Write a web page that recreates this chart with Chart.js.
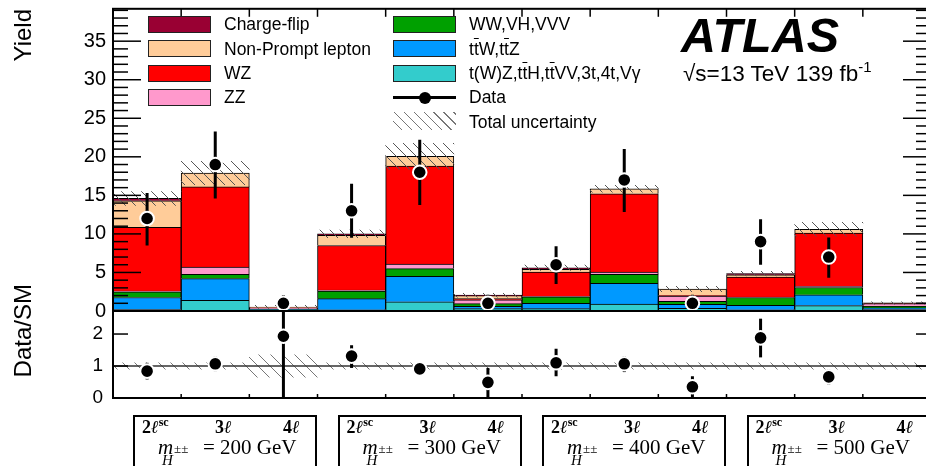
<!DOCTYPE html>
<html>
<head>
<meta charset="utf-8">
<title>Yields per signal region</title>
<script src="https://cdn.jsdelivr.net/npm/chart.js@4.4.1/dist/chart.umd.min.js"></script>
<style>
  html, body { margin: 0; padding: 0; overflow: hidden; background: #fff; }
  body { position: relative; width: 926px; height: 466px; font-family: "Liberation Sans", Arial, sans-serif; color: #000; }
  canvas { position: absolute; left: 0; }
  #main { top: 0; }
  #ratio { top: 300px; }
  .txt { position: absolute; line-height: 1; white-space: nowrap; }
  .serif { font-family: "Liberation Serif", "Times New Roman", serif; }
  .up { position: relative; line-height: 0; }
  .ol { text-decoration: overline; }
  .swatch { position: absolute; box-sizing: border-box; border: 1px solid #222; }
  .hatch { position: absolute; background: repeating-linear-gradient(45deg, transparent 0 6px, #777 6px 7px); }
  .vtitle { position: absolute; font-size: 24px; line-height: 24px; writing-mode: vertical-rl; transform: rotate(180deg); white-space: nowrap; }
  .region { position: absolute; top: 415px; height: 70px; box-sizing: border-box; border: 2px solid #000; }
</style>
</head>
<body>
<canvas id="main" width="945" height="330"></canvas>
<canvas id="ratio" width="945" height="120"></canvas>
<div class="vtitle" style="left:11px; top:9px">Yield</div>
<div class="vtitle" style="left:11px; bottom:89px">Data/SM</div>
<script>
// 4 mass points x 3 channels
const massPoints = [200, 300, 400, 500];
const channels = ['2<i>ℓ</i><span class="up" style="font-size:12px; top:-7px">sc</span>', '3<i>ℓ</i>', '4<i>ℓ</i>'];
const binLabels = ['200 2lsc', '200 3l', '200 4l', '300 2lsc', '300 3l', '300 4l',
                   '400 2lsc', '400 3l', '400 4l', '500 2lsc', '500 3l', '500 4l'];

// background yields per bin (bottom of the stack first)
const tOther     = [0.2, 1.4, 0.1, 0.15, 1.2, 0.3, 0.3, 0.9, 0.35, 0.15, 0.7, 0.2];
const ttV        = [1.55, 2.8, 0.1, 1.45, 3.3, 0.3, 0.7, 2.7, 0.5, 0.6, 1.4, 0.2];
const wwVhVvv    = [0.75, 0.55, 0.05, 1.0, 1.0, 0.35, 0.85, 1.15, 0.4, 1.0, 0.95, 0.2];
const zz         = [0.1, 0.95, 0.15, 0.1, 0.6, 0.5, 0.05, 0.3, 0.7, 0.05, 0.15, 0.35];
const wz         = [8.25, 10.4, 0.02, 5.8, 12.7, 0.15, 3.15, 10.15, 0.05, 2.6, 6.9, 0.02];
const nonPrompt  = [3.45, 1.8, 0.1, 1.3, 1.25, 0.4, 0.35, 0.65, 0.85, 0.3, 0.5, 0.08];
const chargeFlip = [0.3, 0, 0, 0.2, 0, 0.05, 0.2, 0, 0, 0.15, 0, 0];
const totUnc     = [0.9, 1.5, 0.2, 0.5, 1.7, 0.25, 0.35, 0.45, 0.35, 0.3, 0.9, 0.15];

// observed data
const dataYield = [12, 19, 1, 13, 18, 1, 6, 17, 1, 9, 7, null];
const dataLo    = [8.5, 14.6, 0.17, 9.5, 13.75, 0.17, 3.5, 12.85, 0.17, 6.0, 4.3, null];
const dataHi    = [15.3, 23.3, 2.05, 16.5, 22.2, 2.1, 8.4, 21.0, 2.1, 11.9, 9.55, null];

// ratio panel
const ratio    = [0.84, 1.07, 1.93, 1.31, 0.91, 0.49, 1.1, 1.07, 0.35, 1.88, 0.66, null];
const ratioLo  = [0.58, 0.84, 0, 0.94, 0.69, 0, 0.68, 0.81, 0, 1.27, 0.42, null];
const ratioHi  = [1.1, 1.3, 6, 1.65, 1.11, 0.94, 1.54, 1.31, 0.68, 2.48, 0.89, null];
const ratioUnc = [0.1, 0.1, 0.35, 0.1, 0.1, 0.1, 0.1, 0.1, 0.1, 0.1, 0.1, 0.1];

const yMax = 39.2;
const rMax = 2.72;

const stackDefs = [
  { label: 't(W)Z,tt\u0304H,tt\u0304VV,3t,4t,Vγ', data: tOther, color: '#33cccc' },
  { label: 'tt\u0304W,tt\u0304Z', data: ttV, color: '#0099ff' },
  { label: 'WW,VH,VVV', data: wwVhVvv, color: '#00a000' },
  { label: 'ZZ', data: zz, color: '#ff99cc' },
  { label: 'WZ', data: wz, color: '#ff0000' },
  { label: 'Non-Prompt lepton', data: nonPrompt, color: '#ffcc99' },
  { label: 'Charge-flip', data: chargeFlip, color: '#990033' }
];

const totals = binLabels.map((_, i) => stackDefs.reduce((s, d) => s + d.data[i], 0));
const band = totals.map((t, i) => [t - totUnc[i], t + totUnc[i]]);
const ratioBand = ratioUnc.map(u => [1 - u, 1 + u]);

const mainCtx = document.getElementById('main').getContext('2d');
const ratioCtx = document.getElementById('ratio').getContext('2d');

function hatchPattern(ctx, step, color) {
  const c = document.createElement('canvas');
  c.width = c.height = step;
  const g = c.getContext('2d');
  g.strokeStyle = color;
  g.lineWidth = 1;
  for (let k = -1; k <= 1; k++) {
    g.beginPath();
    g.moveTo(k * step, 0);
    g.lineTo(k * step + step, step);
    g.stroke();
  }
  return ctx.createPattern(c, 'repeat');
}

function line(ctx, x1, y1, x2, y2) {
  ctx.beginPath();
  ctx.moveTo(x1, y1);
  ctx.lineTo(x2, y2);
  ctx.stroke();
}

// error bars (and the unit line of the ratio) go after the hatch band, under the markers
function errorBarPlugin(lo, hi, unitLine) {
  return {
    id: 'errorBars',
    afterDatasetDraw(chart, args) {
      if (args.index !== 1) return;
      const { ctx, chartArea: a, scales } = chart;
      ctx.save();
      ctx.beginPath();
      ctx.rect(a.left, a.top, a.right - a.left, a.bottom - a.top);
      ctx.clip();
      if (unitLine) {
        ctx.strokeStyle = '#333';
        ctx.lineWidth = 1.5;
        const y1 = scales.y.getPixelForValue(1);
        line(ctx, a.left, y1, a.right, y1);
      }
      ctx.strokeStyle = '#000';
      ctx.lineWidth = 3;
      lo.forEach((l, i) => {
        if (l == null) return;
        const x = scales.x.getPixelForValue(i);
        line(ctx, x, scales.y.getPixelForValue(l), x, scales.y.getPixelForValue(hi[i]));
      });
      ctx.restore();
    }
  };
}

// ROOT-like frame with inward ticks
function framePlugin(o) {
  return {
    id: 'frame',
    afterDraw(chart) {
      const { ctx, chartArea: a, scales } = chart;
      ctx.save();
      ctx.strokeStyle = '#000';
      ctx.lineWidth = 1.5;
      for (let v = 0; v <= o.max; v += o.minor) {
        const py = scales.y.getPixelForValue(v);
        const len = Math.abs(v / o.major - Math.round(v / o.major)) < 1e-6 ? o.majorLen : o.minorLen;
        line(ctx, a.left, py, a.left + len, py);
        line(ctx, a.right, py, a.right - len, py);
      }
      const n = binLabels.length;
      const w = (a.right - a.left) / n;
      for (let i = 1; i < n; i++) {
        const px = a.left + i * w;
        if (o.topTick) line(ctx, px, a.top, px, a.top + o.topTick);
        if (o.bottomTick) line(ctx, px, a.bottom, px, a.bottom - o.bottomTick);
      }
      ctx.lineWidth = 2;
      ctx.strokeRect(a.left, a.top, a.right - a.left, a.bottom - a.top);
      ctx.restore();
    }
  };
}

const tickFont = { family: '"Liberation Sans", Arial, sans-serif', size: 20 };
const markerStyle = {
  type: 'line', showLine: false, order: 0,
  pointRadius: 6.8, pointHoverRadius: 6.8,
  pointBackgroundColor: '#000', pointBorderColor: '#fff', pointBorderWidth: 2
};

const mainChart = new Chart(mainCtx, {
  type: 'bar',
  data: {
    labels: binLabels,
    datasets: [
      Object.assign({ label: 'Data', data: dataYield, yAxisID: 'yb' }, markerStyle),
      {
        label: 'Total uncertainty', data: band, yAxisID: 'yb', order: 1, grouped: false,
        backgroundColor: hatchPattern(mainCtx, 10, '#555'), borderWidth: 0,
        barPercentage: 1, categoryPercentage: 1
      }
    ].concat(stackDefs.map(d => ({
      label: d.label, data: d.data, yAxisID: 'y', order: 2,
      backgroundColor: d.color, borderColor: '#000', borderWidth: 1,
      barPercentage: 1, categoryPercentage: 1
    })))
  },
  options: {
    responsive: false,
    animation: false,
    layout: { padding: { left: 0, right: 14, top: 6, bottom: 19 } },
    plugins: { legend: { display: false }, tooltip: { enabled: false } },
    scales: {
      x: { type: 'category', stacked: true, display: false, offset: true },
      y: {
        stacked: true, min: 0, max: yMax,
        afterFit: s => { s.width = 113; s.paddingTop = 0; s.paddingBottom = 0; },
        grid: { display: false, drawTicks: false }, border: { display: false },
        ticks: { stepSize: 5, includeBounds: false, color: '#000', font: tickFont, padding: 7 }
      },
      yb: { min: 0, max: yMax, display: false }
    }
  },
  plugins: [errorBarPlugin(dataLo, dataHi, false),
            framePlugin({ max: 39, minor: 1, major: 5, majorLen: 28, minorLen: 15, topTick: 8 })]
});

const ratioChart = new Chart(ratioCtx, {
  type: 'bar',
  data: {
    labels: binLabels,
    datasets: [
      Object.assign({ label: 'Data/SM', data: ratio }, markerStyle),
      {
        label: 'Uncertainty', data: ratioBand, order: 1,
        backgroundColor: hatchPattern(ratioCtx, 12, '#777'), borderWidth: 0,
        barPercentage: 1, categoryPercentage: 1
      }
    ]
  },
  options: {
    responsive: false,
    animation: false,
    layout: { padding: { left: 0, right: 14, top: 11, bottom: 22 } },
    plugins: { legend: { display: false }, tooltip: { enabled: false } },
    scales: {
      x: { type: 'category', display: false, offset: true },
      y: {
        min: 0, max: rMax,
        afterFit: s => { s.width = 113; s.paddingTop = 0; s.paddingBottom = 0; },
        grid: { display: false, drawTicks: false }, border: { display: false },
        ticks: { stepSize: 1, includeBounds: false, color: '#000', font: { family: tickFont.family, size: 19 }, padding: 10 }
      }
    }
  },
  plugins: [errorBarPlugin(ratioLo, ratioHi, true),
            framePlugin({ max: 2, minor: 1, major: 1, majorLen: 15, minorLen: 15, bottomTick: 4 })]
});

// text helpers (positioned by baseline)
function addText(html, x, base, size, cls) {
  const el = document.createElement('div');
  el.className = 'txt' + (cls ? ' ' + cls : '');
  el.innerHTML = html;
  const k = (cls || '').indexOf('serif') >= 0 ? 0.8375 : 0.8465;
  el.style.left = x + 'px';
  el.style.top = (base - size * k) + 'px';
  el.style.fontSize = size + 'px';
  document.body.appendChild(el);
  return el;
}

function addBox(cls, x, y, w, h, bg) {
  const el = document.createElement('div');
  el.className = cls;
  Object.assign(el.style, { left: x + 'px', top: y + 'px', width: w + 'px', height: h + 'px' });
  if (bg) el.style.background = bg;
  document.body.appendChild(el);
  return el;
}

// legend, two columns
const legendItems = stackDefs.slice().reverse().map(d => ({ label: d.label, color: d.color }))
  .concat([{ label: 'Data', kind: 'data' }, { label: 'Total uncertainty', kind: 'hatch' }]);
legendItems.forEach((it, i) => {
  const col = i < 4 ? 0 : 1;
  const row = col ? i - 4 : i;
  const top = 16 + row * 24.4;
  const bx = col ? 393 : 148;
  if (it.kind === 'data') {
    addBox('swatch', bx, top + 7, 63, 3, '#000').style.border = 'none';
    const dot = addBox('swatch', bx + 25.5, top + 2.5, 12, 12, '#000');
    dot.style.border = 'none';
    dot.style.borderRadius = '50%';
  } else if (it.kind === 'hatch') {
    addBox('hatch', bx, top - 2, 63, 18);
  } else {
    addBox('swatch', bx, top, 63, 17, it.color);
  }
  const html = it.label.replace(/t\u0304/g, '<span class="ol">t</span>');
  addText(html, bx + 76, top + 15, 17.5);
});

// ATLAS label
addText('<b><i>ATLAS</i></b>', 681, 52.3, 48.5);
addText('√s=13 TeV 139 fb<span class="up" style="font-size:15px; top:-9px">-1</span>', 683, 81.7, 22.5);

// region boxes under the ratio panel
const area = mainChart.chartArea;
const binW = (area.right - area.left) / binLabels.length;
const chanOffsets = [29, 102, 170];
massPoints.forEach((m, g) => {
  const base = mainChart.scales.x.getPixelForValue(3 * g) - binW / 2;
  addBox('region', base + 20, 415, 184, 70);
  channels.forEach((c, j) => addText('<b>' + c + '</b>', base + chanOffsets[j], 432.7, 18, 'serif'));
  addText('<i>m</i>', base + 45, 455, 21, 'serif');
  addText('<i>H</i>', base + 49, 465.5, 15, 'serif');
  addText('±±', base + 61, 452.5, 13, 'serif');
  addText('= ' + m + ' GeV', base + 90, 455, 21, 'serif');
});
</script>
</body>
</html>
